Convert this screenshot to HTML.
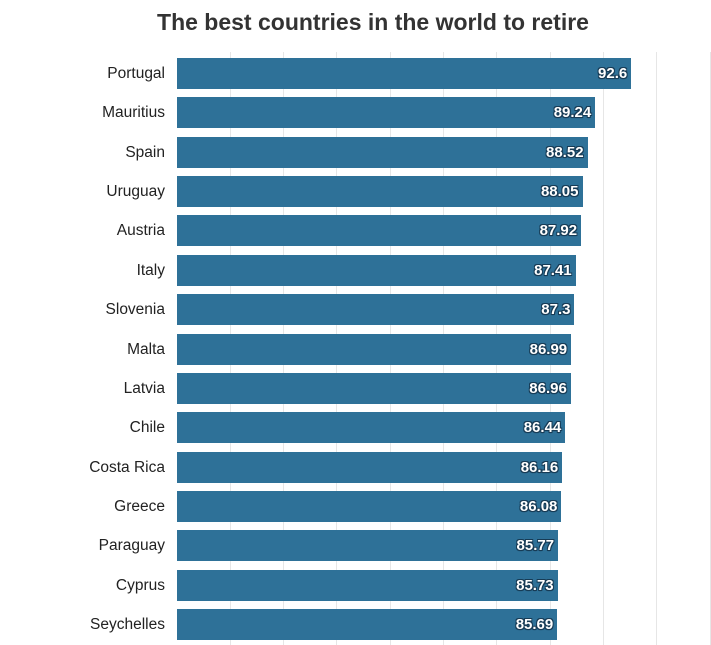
<!DOCTYPE html>
<html><head><style>
body{margin:0;width:711px;height:645px;background:#fff;font-family:"Liberation Sans",sans-serif;overflow:hidden;position:relative}
.t{position:absolute;left:0;width:746px;text-align:center;top:9px;font-size:23px;font-weight:bold;color:#333}
.g{position:absolute;top:52px;height:593px;width:1px;background:#e6e6e6}
.l{position:absolute;right:546px;font-size:15.5px;color:#222;text-align:right;white-space:nowrap}
.b{position:absolute;left:177px;height:31px;background:#2e7198}
.v{position:absolute;right:4px;top:7px;font-size:15px;font-weight:bold;color:#fff;text-shadow:-1px -1px 0 #173b55,1px -1px 0 #173b55,-1px 1px 0 #173b55,1px 1px 0 #173b55,0 1px 1px #173b55}
</style></head><body>
<div class="t">The best countries in the world to retire</div>
<div id="c"></div>
<script>
var d=[["Portugal",92.6],["Mauritius",89.24],["Spain",88.52],["Uruguay",88.05],["Austria",87.92],["Italy",87.41],["Slovenia",87.3],["Malta",86.99],["Latvia",86.96],["Chile",86.44],["Costa Rica",86.16],["Greece",86.08],["Paraguay",85.77],["Cyprus",85.73],["Seychelles",85.69]];
var h="";
for(var i=1;i<=10;i++){h+='<div class="g" style="left:'+Math.round(176.5+i*53.3)+'px"></div>';}
d.forEach(function(r,i){var y=58+i*39.36;var w=(r[1]-50)*10.71-2;
h+='<div class="l" style="top:'+(y+7)+'px">'+r[0]+'</div>';
h+='<div class="b" style="top:'+y+'px;width:'+w+'px"><span class="v">'+r[1]+'</span></div>';});
document.getElementById("c").innerHTML=h;
</script>
</body></html>
